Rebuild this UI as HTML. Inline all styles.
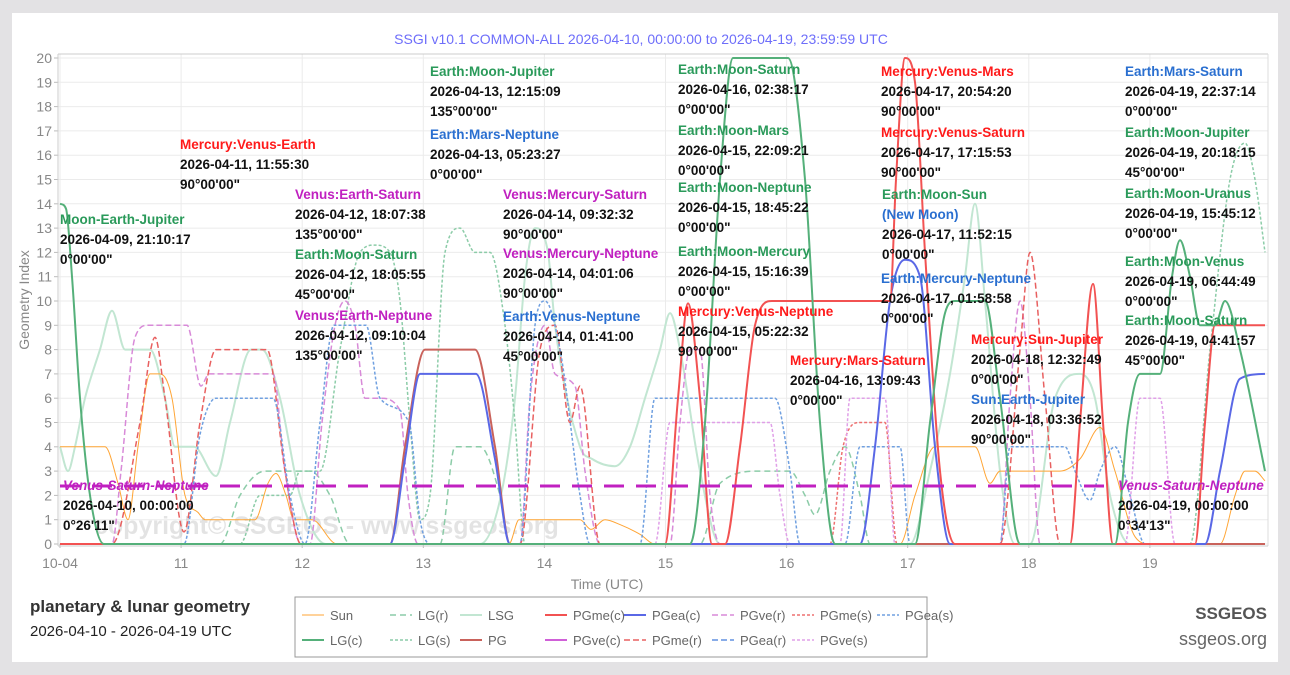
<!DOCTYPE html>
<html><head><meta charset="utf-8"><style>
body{margin:0;background:#e3e2e4;width:1290px;height:675px;overflow:hidden;font-family:"Liberation Sans",sans-serif;}
#card{position:absolute;left:12px;top:13px;width:1266px;height:649px;background:#fff;}
svg{position:absolute;left:0;top:0;}
</style></head><body>
<div id="card"></div>
<svg id="s" width="1290" height="675" xmlns="http://www.w3.org/2000/svg" font-family="Liberation Sans, sans-serif">
<g id="grid"></g>
<text x="94" y="534" font-size="25" font-weight="bold" fill="#000" fill-opacity="0.11">copyright© SSGEOS - www.ssgeos.org</text>
<g id="series"></g>
<line x1="60" y1="486" x2="1112" y2="486" stroke="#c020c0" stroke-width="3" stroke-dasharray="20,12"/>
<g font-size="13.5" font-weight="bold" id="ann"></g>
<text x="641" y="44" font-size="14" fill="#6e6efa" text-anchor="middle">SSGI v10.1 COMMON-ALL 2026-04-10, 00:00:00 to 2026-04-19, 23:59:59 UTC</text>
<text x="607" y="589" font-size="14" fill="#888" text-anchor="middle">Time (UTC)</text>
<text transform="translate(29,300) rotate(-90)" font-size="14" fill="#888" text-anchor="middle">Geometry Index</text>
<text x="30" y="612" font-size="17" font-weight="bold" fill="#333">planetary &amp; lunar geometry</text>
<text x="30" y="636" font-size="15" fill="#222">2026-04-10 - 2026-04-19 UTC</text>
<text x="1267" y="619" font-size="17" font-weight="bold" fill="#555" text-anchor="end">SSGEOS</text>
<text x="1267" y="645" font-size="18" fill="#666" text-anchor="end">ssgeos.org</text>
<rect x="295" y="597" width="632" height="60" fill="none" stroke="#999" stroke-width="1"/>
<g id="leg" font-size="13" fill="#666"></g>
</svg>
<script>
var NS="http://www.w3.org/2000/svg";
function el(p,t,a,txt){var e=document.createElementNS(NS,t);for(var k in a)e.setAttribute(k,a[k]);if(txt!=null)e.textContent=txt;p.appendChild(e);return e;}
function Y(v){return 544-24.3*v;}
var g=document.getElementById('grid');
for(var v=0;v<=20;v++){el(g,'line',{x1:58,x2:1268,y1:Y(v),y2:Y(v),stroke:'#ebebeb'});
el(g,'line',{x1:54,x2:58,y1:Y(v),y2:Y(v),stroke:'#bbb'});
el(g,'text',{x:52,y:Y(v)+5,'font-size':14,fill:'#888','text-anchor':'end'},String(v));}
var days=['10-04','11','12','13','14','15','16','17','18','19'];
for(var i=0;i<10;i++){var x=60+121.1*i;el(g,'line',{x1:x,x2:x,y1:54,y2:544,stroke:'#ebebeb'});
el(g,'line',{x1:x,x2:x,y1:544,y2:548,stroke:'#bbb'});
el(g,'text',{x:x,y:568,'font-size':14,fill:'#888','text-anchor':'middle'},days[i]);}
el(g,'line',{x1:58,x2:1268,y1:54,y2:54,stroke:'#ccc'});
el(g,'line',{x1:58,x2:58,y1:54,y2:546,stroke:'#ccc'});
el(g,'line',{x1:1268,x2:1268,y1:54,y2:546,stroke:'#ddd'});
el(g,'line',{x1:58,x2:1268,y1:546,y2:546,stroke:'#ccc'});
function path(pts){var n=pts.length,x=pts.map(function(p){return p[0];}),y=pts.map(function(p){return Y(p[1]);});
var dl=[],m=[];for(var i=0;i<n-1;i++)dl.push((y[i+1]-y[i])/(x[i+1]-x[i]));
m[0]=dl[0];m[n-1]=dl[n-2];for(i=1;i<n-1;i++){m[i]=(dl[i-1]*dl[i]<=0)?0:(dl[i-1]+dl[i])/2;}
for(i=0;i<n-1;i++){if(dl[i]==0){m[i]=0;m[i+1]=0;}else{var a=m[i]/dl[i],b=m[i+1]/dl[i],s=a*a+b*b;if(s>9){var t=3/Math.sqrt(s);m[i]=t*a*dl[i];m[i+1]=t*b*dl[i];}}}
var d='M'+x[0]+','+y[0].toFixed(1);
for(i=0;i<n-1;i++){var h=(x[i+1]-x[i])/3;d+=' C'+(x[i]+h).toFixed(1)+','+(y[i]+m[i]*h).toFixed(1)+' '+(x[i+1]-h).toFixed(1)+','+(y[i+1]-m[i+1]*h).toFixed(1)+' '+x[i+1]+','+y[i+1].toFixed(1);}
return d;}
var S={
sun:{c:'#ffa535',w:1,d:null},lgr:{c:'#8ccca8',w:1.5,d:'6,4'},lsg:{c:'#c2e6d2',w:2,d:null},pgmec:{c:'#f25252',w:2,d:null},pgeac:{c:'#5a68e6',w:2,d:null},
pgver:{c:'#d88ad8',w:1.5,d:'6,3'},pgmes:{c:'#ee7070',w:1.5,d:'3,2'},pgeas:{c:'#70a0e0',w:1.5,d:'3,2'},
lgc:{c:'#55b07a',w:2,d:null},lgs:{c:'#8ccca8',w:1.5,d:'3,2'},pg:{c:'#c9625b',w:2,d:null},pgvec:{c:'#d060d8',w:2,d:null},
pgmer:{c:'#e86060',w:1.5,d:'6,3'},pgear:{c:'#6090e0',w:1.5,d:'6,3'},pgves:{c:'#e0a0e8',w:1.5,d:'3,2'}};
var D={
lsg:[[60,4],[68,3],[75,4],[85,6],[100,8],[112,9.6],[125,8],[150,8],[165,6],[175,4],[194,4],[216,2.8],[230,5],[251,8],[262,8],[280,6],[300,2],[326,0],[480,0],[501,2],[515,6],[525,11],[535,13],[548,12],[555,9],[580,4],[592,3.5],[615,3.2],[630,4],[645,6],[660,8],[670,9.5],[680,8],[700,3],[720,0],[910,0],[930,3],[950,7],[965,11],[975,14],[985,10],[1000,3],[1015,0],[1030,0],[1055,6],[1080,7],[1095,6],[1110,2],[1130,0],[1265,0]],
lgr:[[60,0],[220,0],[240,2],[265,3],[310,3],[330,2],[350,0],[440,0],[455,4],[480,4],[500,2],[510,0],[700,0],[720,2.5],[760,3],[790,3],[805,2],[815,1.2],[830,3],[845,4],[860,2],[870,0],[1265,0]],
lgs:[[60,0],[240,0],[260,2],[290,2],[300,3],[320,3],[340,8],[360,12],[375,12.3],[390,12],[400,10],[410,5],[420,1],[430,2],[445,12],[460,13],[475,12],[490,12],[505,9],[515,5],[525,0],[1190,0],[1210,8],[1230,15],[1245,16.5],[1255,15],[1265,12]],
sun:[[60,4],[105,4],[118,2.5],[128,1],[138,4],[150,7],[160,7],[172,6],[185,2],[198,1.3],[205,1],[255,1],[268,2.5],[276,2.9],[286,2],[294,1],[312,1],[337,0],[509,0],[519,1],[580,1],[591,0.6],[605,1],[620,0.8],[640,0.4],[655,0],[900,0],[915,2],[935,4],[975,4],[990,2.5],[1000,3],[1060,3],[1080,3.5],[1100,4.8],[1115,3],[1135,0.3],[1150,0],[1220,0],[1235,2],[1245,3],[1255,3],[1265,2.6]],
pgver:[[60,0],[112,0],[121,3],[135,8.5],[148,9],[187,9],[201,6.5],[209,7],[273,7],[285,3],[301,0],[310,0],[322,5],[335,9],[345,10],[355,9],[365,6],[380,6],[400,5.5],[408,2],[418,0],[520,0],[530,6],[545,9],[555,7],[575,6.5],[585,3],[600,0],[670,0],[680,5],[690,8],[700,8],[710,2],[720,0],[1000,0],[1010,6],[1020,10],[1030,6],[1040,0],[1265,0]],
pgmer:[[60,0],[112,0],[140,5],[155,8.5],[165,6],[184,0.5],[200,5],[216,8],[267,8],[285,3],[301,0],[520,0],[540,8],[555,9],[570,5],[580,6.5],[600,0],[1000,0],[1020,8],[1030,12],[1045,6],[1060,0],[1265,0]],
pgeas:[[60,0],[184,0],[200,4.5],[216,6],[273,6],[290,2],[305,0],[320,5],[334,9],[366,9],[380,6],[409,5],[420,1],[430,0],[520,0],[535,9],[545,10],[560,8],[580,2],[590,0],[640,0],[655,6],[680,6],[775,6],[790,3],[800,0],[845,0],[860,4],[900,4],[910,0],[1000,0],[1010,4],[1065,4],[1075,3],[1090,1.8],[1100,3],[1115,4],[1130,2],[1145,0],[1265,0]],
pgmes:[[60,0],[830,0],[843,4],[860,5],[885,5],[897,0],[1265,0]],
pgves:[[60,0],[655,0],[670,5],[770,5],[780,2],[790,0],[840,0],[850,6],[885,6],[895,0],[1125,0],[1140,6],[1160,6],[1175,0],[1265,0]],
pgear:[[60,0],[1265,0]],
pgvec:[[60,0],[1265,0]],
pg:[[60,0],[390,0],[405,4],[425,8],[475,8],[495,4],[510,0],[1265,0]],
pgeac:[[60,0],[390,0],[405,3.5],[420,7],[476,7],[495,3.5],[510,0],[860,0],[875,4],[890,10],[905,11.7],[920,11],[935,4],[950,0],[1205,0],[1220,3],[1240,6.8],[1265,7]],
pgmec:[[60,0],[665,0],[678,6],[688,9.9],[700,6],[712,0],[725,0],[740,4],[755,9],[772,10],[890,10],[896,15],[905,20],[915,19],[925,12],[940,3],[955,0],[1070,0],[1080,5],[1093,10.7],[1103,5],[1113,0],[1195,0],[1205,5],[1215,9],[1265,9]],
lgc:[[60,14],[66,13.8],[72,11],[80,6],[90,2],[104,0],[690,0],[705,5],[720,15],[733,20],[788,20],[805,15],[820,5],[835,0],[915,0],[930,5],[945,9.5],[955,10],[985,10],[1000,6],[1020,0],[1115,0],[1128,5],[1140,7],[1160,7],[1172,11],[1180,12.5],[1190,11],[1200,9],[1215,9],[1225,10],[1240,8],[1265,3]]};
var sg=document.getElementById('series');
['lsg','lgr','lgs','sun','pgver','pgmer','pgeas','pgmes','pgves','pgear','pgvec','pg','pgeac','pgmec','lgc'].forEach(function(k){var s=S[k];
var a={d:path(D[k]),fill:'none',stroke:s.c,'stroke-width':s.w,'stroke-linejoin':'round'};if(s.d)a['stroke-dasharray']=s.d;el(sg,'path',a);});
var G='#2a9a5a',R='#ff1a1a',P='#c020c0',B='#2a6fd0',K='#111';
var A=[
[60,224,G,'Moon-Earth-Jupiter','2026-04-09, 21:10:17',"0°00'00\""],
[180,149,R,'Mercury:Venus-Earth','2026-04-11, 11:55:30',"90°00'00\""],
[295,199,P,'Venus:Earth-Saturn','2026-04-12, 18:07:38',"135°00'00\""],
[295,259,G,'Earth:Moon-Saturn','2026-04-12, 18:05:55',"45°00'00\""],
[295,320,P,'Venus:Earth-Neptune','2026-04-12, 09:10:04',"135°00'00\""],
[430,76,G,'Earth:Moon-Jupiter','2026-04-13, 12:15:09',"135°00'00\""],
[430,139,B,'Earth:Mars-Neptune','2026-04-13, 05:23:27',"0°00'00\""],
[503,199,P,'Venus:Mercury-Saturn','2026-04-14, 09:32:32',"90°00'00\""],
[503,258,P,'Venus:Mercury-Neptune','2026-04-14, 04:01:06',"90°00'00\""],
[503,321,B,'Earth:Venus-Neptune','2026-04-14, 01:41:00',"45°00'00\""],
[678,74,G,'Earth:Moon-Saturn','2026-04-16, 02:38:17',"0°00'00\""],
[678,135,G,'Earth:Moon-Mars','2026-04-15, 22:09:21',"0°00'00\""],
[678,192,G,'Earth:Moon-Neptune','2026-04-15, 18:45:22',"0°00'00\""],
[678,256,G,'Earth:Moon-Mercury','2026-04-15, 15:16:39',"0°00'00\""],
[678,316,R,'Mercury:Venus-Neptune','2026-04-15, 05:22:32',"90°00'00\""],
[790,365,R,'Mercury:Mars-Saturn','2026-04-16, 13:09:43',"0°00'00\""],
[881,76,R,'Mercury:Venus-Mars','2026-04-17, 20:54:20',"90°00'00\""],
[881,137,R,'Mercury:Venus-Saturn','2026-04-17, 17:15:53',"90°00'00\""],
[881,283,B,'Earth:Mercury-Neptune','2026-04-17, 01:58:58',"0°00'00\""],
[971,344,R,'Mercury:Sun-Jupiter','2026-04-18, 12:32:49',"0°00'00\""],
[971,404,B,'Sun:Earth-Jupiter','2026-04-18, 03:36:52',"90°00'00\""],
[1125,76,B,'Earth:Mars-Saturn','2026-04-19, 22:37:14',"0°00'00\""],
[1125,137,G,'Earth:Moon-Jupiter','2026-04-19, 20:18:15',"45°00'00\""],
[1125,198,G,'Earth:Moon-Uranus','2026-04-19, 15:45:12',"0°00'00\""],
[1125,266,G,'Earth:Moon-Venus','2026-04-19, 06:44:49',"0°00'00\""],
[1125,325,G,'Earth:Moon-Saturn','2026-04-19, 04:41:57',"45°00'00\""]];
var ag=document.getElementById('ann');
A.forEach(function(a){el(ag,'text',{x:a[0],y:a[1],fill:a[2]},a[3]);el(ag,'text',{x:a[0],y:a[1]+20,fill:K},a[4]);el(ag,'text',{x:a[0],y:a[1]+40,fill:K},a[5]);});
el(ag,'text',{x:882,y:199,fill:G},'Earth:Moon-Sun');el(ag,'text',{x:882,y:219,fill:B},'(New Moon)');
el(ag,'text',{x:882,y:239,fill:K},'2026-04-17, 11:52:15');el(ag,'text',{x:882,y:259,fill:K},"0°00'00\"");
[[63,'2026-04-10, 00:00:00',"0°26'11\""],[1118,'2026-04-19, 00:00:00',"0°34'13\""]].forEach(function(b){
el(ag,'text',{x:b[0],y:490,fill:P,'font-style':'italic'},'Venus-Saturn-Neptune');el(ag,'text',{x:b[0],y:510,fill:K},b[1]);el(ag,'text',{x:b[0],y:530,fill:K},b[2]);});
var lg=document.getElementById('leg');
var cols=[330,418,488,573,652,740,820,905];
var L=[['Sun','sun',0,615],['LG(r)','lgr',1,615],['LSG','lsg',2,615],['PGme(c)','pgmec',3,615],['PGea(c)','pgeac',4,615],['PGve(r)','pgver',5,615],['PGme(s)','pgmes',6,615],['PGea(s)','pgeas',7,615],
['LG(c)','lgc',0,640],['LG(s)','lgs',1,640],['PG','pg',2,640],['PGve(c)','pgvec',3,640],['PGme(r)','pgmer',4,640],['PGea(r)','pgear',5,640],['PGve(s)','pgves',6,640]];
L.forEach(function(l){var s=S[l[1]];var tx=cols[l[2]];var a={x1:tx-28,x2:tx-6,y1:l[3],y2:l[3],stroke:s.c,'stroke-width':s.w};if(s.d)a['stroke-dasharray']=s.d;el(lg,'line',a);el(lg,'text',{x:tx,y:l[3]+5},l[0]);});
</script>
</body></html>
